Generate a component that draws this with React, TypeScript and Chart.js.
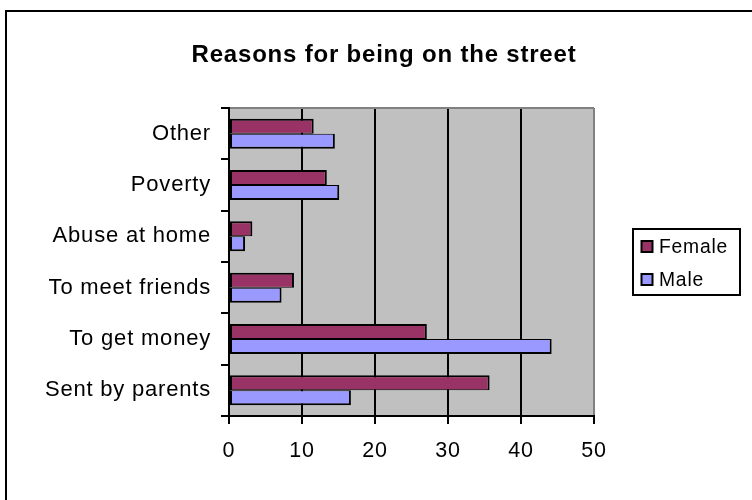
import React, { useEffect, useRef } from "react";
import { Chart, registerables } from "chart.js";

Chart.register(...registerables);

const chartTitle = "Reasons for being on the street";
const categories = ["Other", "Poverty", "Abuse at home", "To meet friends", "To get money", "Sent by parents"];
const seriesNames = ["Female", "Male"];
const femaleValues = [11.6, 13.4, 3.2, 8.9, 27.1, 35.7];
const maleValues = [14.5, 15.1, 2.2, 7.2, 44.2, 16.7];
const xTickValues = [0, 10, 20, 30, 40, 50];

const FONT = "'Liberation Sans', Arial, Helvetica, sans-serif";
const SERIES_COLORS = ["#993366", "#9999FF"];

export default function App() {
  const ref = useRef<HTMLCanvasElement>(null);

  useEffect(() => {
    const canvas = ref.current;
    if (!canvas) return;

    const framePlugin = {
      id: "excelFrame",
      afterLayout(chart: any) {
        // let the category labels extend left of the narrow axis box
        if (chart.scales.y) chart.scales.y.left = 0;
      },
      beforeDraw(chart: any) {
        const ctx = chart.ctx;
        const a = chart.chartArea;
        ctx.letterSpacing = "0.8px";
        ctx.save();
        ctx.fillStyle = "#ffffff";
        ctx.fillRect(0, 0, chart.width, chart.height);
        ctx.fillStyle = "#C0C0C0";
        ctx.fillRect(a.left, a.top, a.right - a.left, a.bottom - a.top);
        ctx.restore();
      },
      afterDraw(chart: any) {
        const ctx = chart.ctx;
        ctx.save();
        ctx.strokeStyle = "#000";
        ctx.lineWidth = 2;
        ctx.strokeRect(6, 11, 800, 600);
        const lx = 633, ly = 229, lw = 107, lh = 66;
        ctx.fillStyle = "#fff";
        ctx.fillRect(lx, ly, lw, lh);
        ctx.strokeRect(lx, ly, lw, lh);
        const rowY = [247, 280];
        chart.data.datasets.forEach((ds: any, i: number) => {
          const cy = rowY[i];
          ctx.fillStyle = ds.backgroundColor;
          ctx.beginPath();
          ctx.rect(641.5, cy - 6, 11, 11);
          ctx.fill();
          ctx.lineWidth = 2;
          ctx.strokeStyle = "#000";
          ctx.stroke();
          ctx.fillStyle = "#000";
          ctx.font = `19.3px ${FONT}`;
          ctx.textAlign = "left";
          ctx.textBaseline = "middle";
          ctx.fillText(ds.label, 659, cy + 0.5);
        });
        ctx.restore();
      },
    };

    const chart = new Chart(canvas, {
      type: "bar",
      data: {
        labels: categories,
        datasets: [
          {
            label: seriesNames[0],
            data: femaleValues,
            backgroundColor: SERIES_COLORS[0],
            borderColor: "#000",
            borderWidth: { top: 2, left: 2, right: 2, bottom: 1 },
            borderSkipped: false,
            inflateAmount: 0,
            categoryPercentage: 0.585,
            barPercentage: 1,
          },
          {
            label: seriesNames[1],
            data: maleValues,
            backgroundColor: SERIES_COLORS[1],
            borderColor: "#000",
            borderWidth: { top: 1, left: 2, right: 2, bottom: 2 },
            borderSkipped: false,
            inflateAmount: 0,
            categoryPercentage: 0.585,
            barPercentage: 1,
          },
        ],
      },
      options: {
        indexAxis: "y",
        responsive: false,
        animation: false,
        devicePixelRatio: 1,
        layout: { padding: { left: 174, right: 158, top: 0, bottom: 0 } },
        plugins: {
          legend: { display: false },
          tooltip: { enabled: false },
          title: {
            display: true,
            text: chartTitle,
            color: "#000",
            font: { family: FONT, size: 24, weight: "bold", lineHeight: 1.2 },
            padding: { top: 41.1, bottom: 38.1 },
          },
        },
        scales: {
          x: {
            type: "linear",
            min: xTickValues[0],
            max: xTickValues[xTickValues.length - 1],
            afterBuildTicks: (s: any) => {
              s.ticks = xTickValues.map((v) => ({ value: v }));
            },
            afterFit: (s: any) => {
              s.height = 84;
            },
            grid: {
              color: (c: any) => (c.tick && c.tick.value === xTickValues[xTickValues.length - 1] ? "#808080" : "#000"),
              lineWidth: 2,
              tickColor: "#000",
              tickLength: 8,
              tickWidth: 2,
            },
            border: { color: "#000", width: 2 },
            ticks: { color: "#000", font: { family: FONT, size: 21.5 }, padding: 14, maxRotation: 0 },
          },
          y: {
            type: "category",
            offset: true,
            grid: {
              offset: true,
              color: (c: any) => (c.index === 0 ? "#808080" : "rgba(0,0,0,0)"),
              lineWidth: 2,
              tickColor: "#000",
              tickLength: 8,
              tickWidth: 2,
            },
            border: { color: "#000", width: 2 },
            ticks: { color: "#000", font: { family: FONT, size: 22 }, padding: 10 },
            afterFit: (s: any) => {
              s.width = 55;
            },
          },
        },
      },
      plugins: [framePlugin],
    } as any);

    return () => chart.destroy();
  }, []);

  return (
    <div style={{ position: "absolute", left: 0, top: 0, width: 752, height: 500 }}>
      <canvas ref={ref} width={752} height={500} style={{ display: "block", width: 752, height: 500 }} />
    </div>
  );
}
